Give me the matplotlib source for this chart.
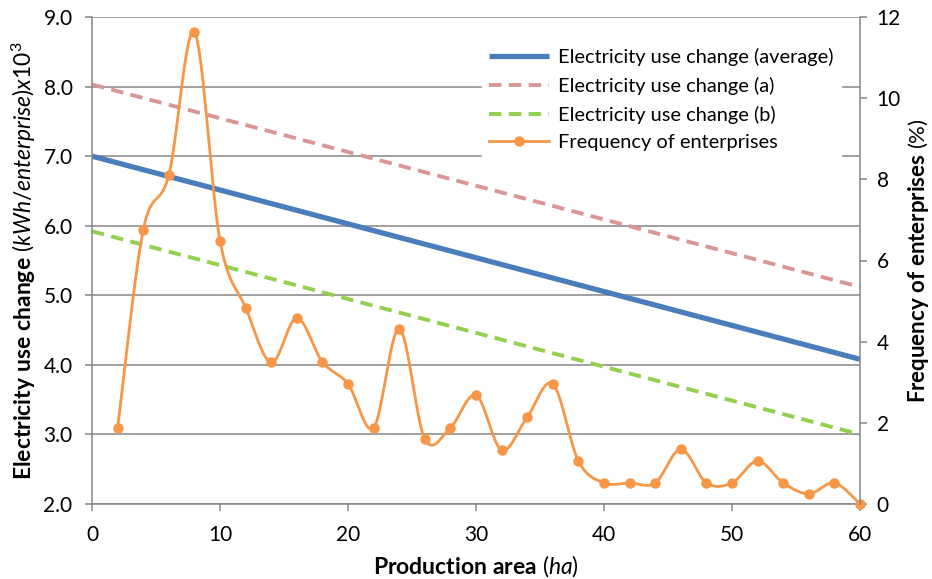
import numpy as np
import matplotlib
matplotlib.use("Agg")
import matplotlib.pyplot as plt

plt.rcParams['font.family'] = ['Lato', 'DejaVu Sans']
plt.rcParams['mathtext.fontset'] = 'custom'
plt.rcParams['mathtext.rm'] = 'Lato'
plt.rcParams['mathtext.it'] = 'Lato:italic'
plt.rcParams['mathtext.bf'] = 'Lato:bold'

# ---- data ----
line_x = [0, 60]
avg_use = [7.0, 4.08]
a_use = [8.03, 5.12]
b_use = [5.92, 3.0]

freq_x = [2, 4, 6, 8, 10, 12, 14, 16, 18, 20, 22, 24, 26, 28, 30,
          32, 34, 36, 38, 40, 42, 44, 46, 48, 50, 52, 54, 56, 58, 60]
freq_pct = [1.87, 6.75, 8.1, 11.62, 6.49, 4.84, 3.49, 4.58, 3.5, 2.96,
            1.88, 4.31, 1.6, 1.88, 2.68, 1.33, 2.14, 2.96, 1.06, 0.52,
            0.52, 0.52, 1.35, 0.52, 0.52, 1.06, 0.52, 0.25, 0.52, 0.0]

left_ticks = [2.0, 3.0, 4.0, 5.0, 6.0, 7.0, 8.0, 9.0]
right_ticks = [0, 2, 4, 6, 8, 10, 12]
x_ticks = [0, 10, 20, 30, 40, 50, 60]

labels = ["Electricity use change (average)", "Electricity use change (a)",
          "Electricity use change (b)", "Frequency of enterprises"]


def smooth(xs, ys, n=30):
    """Excel-like smoothed line (Catmull-Rom as cubic Bezier)."""
    p = np.column_stack([xs, ys]).astype(float)
    ext = np.vstack([p[0], p, p[-1]])
    out = []
    t = np.linspace(0, 1, n)[:, None]
    for i in range(1, len(ext) - 2):
        p0, p1, p2, p3 = ext[i - 1], ext[i], ext[i + 1], ext[i + 2]
        c1 = p1 + (p2 - p0) / 6.0
        c2 = p2 - (p3 - p1) / 6.0
        seg = ((1 - t) ** 3) * p1 + 3 * ((1 - t) ** 2) * t * c1 + 3 * (1 - t) * t ** 2 * c2 + t ** 3 * p2
        out.append(seg if i == 1 else seg[1:])
    s = np.vstack(out)
    return s[:, 0], s[:, 1]


gray = '#868686'
fig = plt.figure(figsize=(9.32, 5.79), dpi=100)
ax = fig.add_axes([92 / 932, 75 / 579, 768 / 932, 487 / 579])
ax2 = ax.twinx()

l1, = ax.plot(line_x, avg_use, color='#4A7EBB', lw=3.8, solid_capstyle='butt')
l2, = ax.plot(line_x, a_use, color='#D99694', lw=2.8, dashes=(3.2, 1.9), dash_capstyle='butt')
l3, = ax.plot(line_x, b_use, color='#92D050', lw=2.8, dashes=(3.2, 1.9), dash_capstyle='butt')

sx, sy = smooth(freq_x, freq_pct)
ax2.plot(sx, sy, color='#F79646', lw=2.0, clip_on=False)
ax2.plot(freq_x, freq_pct, 'o', color='#F79646', ms=6.5, clip_on=False)
l4, = ax2.plot([], [], color='#F79646', lw=2.0, marker='o', ms=6.5)

ax.set_xlim(0, 60)
ax.set_ylim(2.0, 9.0)
ax2.set_ylim(0, 12)
ax.set_xticks(x_ticks)
ax.set_yticks(left_ticks)
ax.set_yticklabels([f"{v:.1f}" for v in left_ticks])
ax2.set_yticks(right_ticks)

ax.grid(axis='y', color=gray, lw=1.1)
ax.set_axisbelow(True)
for a in (ax, ax2):
    for s in ('top',):
        a.spines[s].set_visible(False)
    for s in ('left', 'bottom', 'right'):
        a.spines[s].set_color(gray)
        a.spines[s].set_linewidth(1.1)
    a.tick_params(colors=gray, labelcolor='black', labelsize=15, length=5, width=1.1, pad=7)
ax2.spines['left'].set_visible(False)
ax2.spines['bottom'].set_visible(False)
ax.spines['right'].set_visible(False)
ax.tick_params(axis='x', pad=10)
ax.tick_params(axis='y', pad=9)

ax.set_xlabel(r'$\mathbf{Production\ area}\ \mathit{(ha)}$', fontsize=16.5, labelpad=6)
ax.set_ylabel(r'$\mathbf{Electricity\ use\ change}\ \mathit{(kWh/enterprise)x10^3}$', fontsize=16.5, labelpad=4)
ax2.set_ylabel(r'$\mathbf{Frequency\ of\ enterprises}\ \mathit{(\%)}$', fontsize=16, labelpad=4)

leg = ax2.legend([l1, l2, l3, l4], labels, loc='upper right', bbox_to_anchor=(0.975, 0.95),
                 frameon=True, fontsize=14.4, handlelength=3.0, numpoints=1,
                 borderaxespad=0, labelspacing=0.53, handletextpad=0.45, borderpad=0.35)
leg.get_frame().set_edgecolor('white')
leg.get_frame().set_facecolor('white')
leg.get_frame().set_alpha(1)
leg.get_frame().set_boxstyle('square', pad=0)

fig.savefig('out.png', dpi=100)
